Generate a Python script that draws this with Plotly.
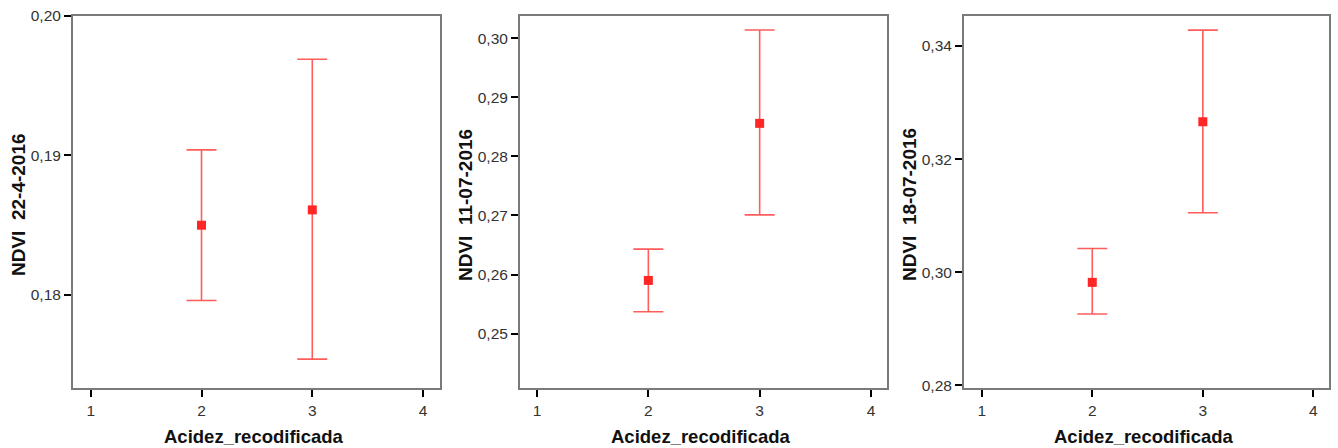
import plotly.graph_objects as go

# Data
groups = [2, 3]
titles_y = ["NDVI  22-4-2016", "NDVI  11-07-2016", "NDVI  18-07-2016"]
x_title = "Acidez_recodificada"

mean_1 = [0.1850, 0.1861]
low_1 = [0.1796, 0.1754]
high_1 = [0.1904, 0.1969]

mean_2 = [0.2590, 0.2856]
low_2 = [0.2537, 0.2701]
high_2 = [0.2643, 0.3014]

mean_3 = [0.2982, 0.3266]
low_3 = [0.2926, 0.3105]
high_3 = [0.3042, 0.3428]

x_ticks = [1, 2, 3, 4]
y_ticks_1 = [0.18, 0.19, 0.20]
y_ticks_2 = [0.25, 0.26, 0.27, 0.28, 0.29, 0.30]
y_ticks_3 = [0.28, 0.30, 0.32, 0.34]

W, H = 1338, 448
panels = [
    dict(mean=mean_1, low=low_1, high=high_1, yt=y_ticks_1, yr=[0.17333, 0.2000],
         xr=[0.84, 4.153], px=(73, 440), title_x=18),
    dict(mean=mean_2, low=low_2, high=high_2, yt=y_ticks_2, yr=[0.24078, 0.30378],
         xr=[0.847, 4.144], px=(520, 887), title_x=465),
    dict(mean=mean_3, low=low_3, high=high_3, yt=y_ticks_3, yr=[0.27952, 0.34530],
         xr=[0.84, 4.141], px=(964, 1329), title_x=909),
]

top_px, bot_px = 16, 388
ydom = [1 - bot_px / H, 1 - top_px / H]

fig = go.Figure()
layout = dict(
    width=W, height=H, margin=dict(l=0, r=0, t=0, b=0),
    paper_bgcolor="white", plot_bgcolor="white", showlegend=False,
    separators=",.",
    font=dict(family="Liberation Sans, Arial, sans-serif", color="#333333", size=15),
    annotations=[],
)

for i, p in enumerate(panels):
    n = "" if i == 0 else str(i + 1)
    xa, ya = "x" + n, "y" + n
    err_plus = [h - m for h, m in zip(p["high"], p["mean"])]
    err_minus = [m - l for m, l in zip(p["mean"], p["low"])]
    fig.add_trace(go.Scatter(
        x=groups, y=p["mean"], mode="markers", xaxis=xa, yaxis=ya,
        marker=dict(symbol="square", size=9, color="#ff2626"),
        error_y=dict(type="data", symmetric=False, array=err_plus, arrayminus=err_minus,
                     color="#ff5c5c", thickness=1.6, width=15),
    ))
    axis_common = dict(
        showline=True, linecolor="#7a7a7a", linewidth=2, mirror=True,
        ticks="outside", ticklen=7, tickwidth=2, tickcolor="#000000",
        showgrid=False, zeroline=False, automargin=False,
        tickfont=dict(size=15.5, color="#333333"),
    )
    layout["xaxis" + n] = dict(
        axis_common, domain=[p["px"][0] / W, p["px"][1] / W], range=p["xr"],
        tickvals=x_ticks, anchor=ya,
    )
    layout["yaxis" + n] = dict(
        axis_common, domain=ydom, range=p["yr"], tickvals=p["yt"], tickformat=".2f",
        anchor=xa, ticklabelstandoff=0,
    )
    layout["annotations"].append(dict(
        text="<b>" + titles_y[i] + "</b>", xref="paper", yref="paper",
        x=p["title_x"] / W, y=1 - 205 / H, textangle=-90, showarrow=False,
        xanchor="center", yanchor="middle",
        font=dict(size=19, color="#111111"),
    ))
    layout["annotations"].append(dict(
        text="<b>" + x_title + "</b>", xref="paper", yref="paper",
        x=(p["px"][0] + p["px"][1]) / 2 / W - 3 / W, y=1 - 436 / H, showarrow=False,
        xanchor="center", yanchor="middle",
        font=dict(size=18.5, color="#111111"),
    ))

fig.update_layout(**layout)
fig.write_html("out.html")
